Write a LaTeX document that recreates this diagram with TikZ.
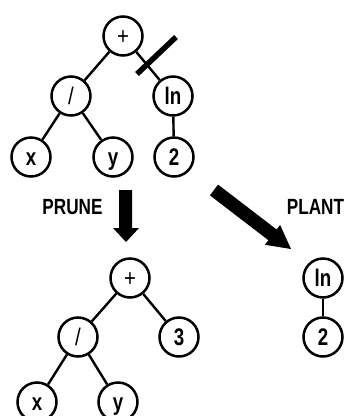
\documentclass[tikz,border=0pt]{standalone}
\usepackage{fontspec}
\usetikzlibrary{calc}
\newfontfamily\condb[FakeStretch=0.78]{Liberation Sans Bold}
\newfontfamily\condr[FakeStretch=0.85]{Liberation Sans}
\begin{document}
\begin{tikzpicture}[x=1pt,y=-1pt,
  tnode/.style={circle,draw,line width=2.5pt,minimum size=39pt,inner sep=0pt,
    font=\condb\fontsize{24}{24}\selectfont,text height=17.2pt,text depth=0pt},
  opnode/.style={tnode,font=\condr\fontsize{24}{24}\selectfont},
  edge/.style={line width=2.4pt},
  lbl/.style={font=\condb\fontsize{22}{22}\selectfont,inner sep=0pt},
  bigarrow/.style={fill=black,draw=none}]
\useasboundingbox (0,0) rectangle (345,416);
% top tree
\node[opnode] (p) at (123,36) {+};
\node[opnode] (d) at (71,96) {/};
\node[tnode] (l) at (173,96) {ln};
\node[tnode] (x) at (31,157) {x};
\node[tnode] (y) at (113,157) {y};
\node[tnode] (t) at (174,157) {2};
\draw[edge] (p) -- (d);
\draw[edge] (p) -- (l);
\draw[edge] (d) -- (x);
\draw[edge] (d) -- (y);
\draw[edge] (l) -- (t);
\coordinate (c1) at (137,74);
\coordinate (c2) at (176,37);
\draw[line width=5.5pt] (c1) -- (c2);
% labels
\node[lbl] (prune) at (72.5,207.5) {PRUNE};
\node[lbl] (plant) at (315.5,206.5) {PLANT};
% down arrow
\fill[bigarrow] (119,190) -- (132,190) -- (132,228) -- (139,228) -- (126,242) -- (113,228) -- (119,228) -- cycle;
% diagonal arrow
\coordinate (a1) at (214,190);
\coordinate (a2) at (291,249);
\draw[line width=13.5pt] (a1) -- ($(a1)!0.8!(a2)$);
\fill[bigarrow] (a2) -- ($(a1)!0.76!(a2)!12.5pt!90:(a2)$) -- ($(a1)!0.76!(a2)!12.5pt!-90:(a2)$) -- cycle;
% bottom tree
\node[opnode] (pb) at (130,278) {+};
\node[opnode] (db) at (78,337) {/};
\node[tnode] (th) at (179,337) {3};
\node[tnode] (xb) at (37,402) {x};
\node[tnode] (yb) at (118,402) {y};
\draw[edge] (pb) -- (db);
\draw[edge] (pb) -- (th);
\draw[edge] (db) -- (xb);
\draw[edge] (db) -- (yb);
% planted subtree
\node[tnode] (lr) at (323,278) {ln};
\node[tnode] (tr) at (323,337) {2};
\draw[edge] (lr) -- (tr);
\end{tikzpicture}
\end{document}
